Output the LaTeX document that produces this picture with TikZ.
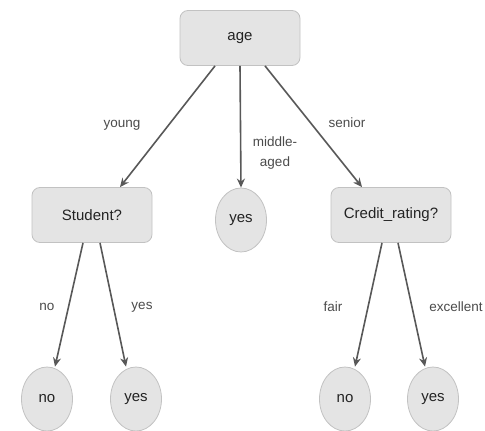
\documentclass[tikz,border=0pt]{standalone}
\usepackage{fontspec}
\setmainfont{Liberation Sans}
\usepackage{tikz}
\usepackage{xcolor}
\usetikzlibrary{shapes.geometric, arrows.meta, positioning, calc}
\definecolor{cFill}{RGB}{228,228,228}
\definecolor{cBorder}{RGB}{194,194,194}
\definecolor{cArrow}{RGB}{88,88,88}
\definecolor{cLabel}{RGB}{75,75,75}
\definecolor{cText}{RGB}{35,35,35}
\tikzset{
	test/.style  ={rectangle, rounded corners=8pt, minimum width=120pt, minimum height=55pt, align=center, draw=cBorder, thick, fill=cFill, text=cText, font=\fontsize{15}{17}\selectfont},
	leaf/.style  ={ellipse, minimum width=51pt, minimum height=64pt, inner sep=0pt, draw=cBorder, thick, fill=cFill, text=cText, font=\fontsize{15}{17}\selectfont},
	branch/.style={-{Stealth[length=9pt, width=8pt]}, line width=1.6pt, cArrow},
	blabel/.style={text=cLabel, align=center, font=\fontsize{13.5}{20}\selectfont},
}
\begin{document}
\begin{tikzpicture}[x=1pt, y=-1pt]
	\useasboundingbox (0,0) rectangle (485,431);
	% tests
	\node[test] (age) at (240,38) {age};
	\node[test] (student) at (92,215) {Student?};
	\node[test] (credit) at (391,215) {Credit\_rating?};
	% leaves
	\node[leaf] (mid) at (241,220) {yes};
	\node[leaf] (sno) at (47,399) {no};
	\node[leaf] (syes) at (136,399) {yes};
	\node[leaf] (cno) at (345,399) {no};
	\node[leaf] (cyes) at (433,399) {yes};
	% branches
	\draw[branch] ([xshift=-25pt]age.south) -- ([xshift=28pt]student.north);
	\draw[branch] (age.south) -- (mid.north);
	\draw[branch] ([xshift=25pt]age.south) -- ([xshift=-29pt]credit.north);
	\draw[branch] ([xshift=-9pt]student.south) -- ([xshift=8pt]sno.north);
	\draw[branch] ([xshift=8pt]student.south) -- ([xshift=-10pt]syes.north);
	\draw[branch] ([xshift=-9pt]credit.south) -- ([xshift=10pt]cno.north);
	\draw[branch] ([xshift=7pt]credit.south) -- ([xshift=-8pt]cyes.north);
	% branch labels
	\node[blabel] (lyoung) at (122,125) {young};
	\node[blabel] (lmiddle) at (275,153) {middle-\\aged};
	\node[blabel] (lsenior) at (347,123) {senior};
	\node[blabel] (lno) at (47,307) {no};
	\node[blabel] (lyes) at (142,307) {yes};
	\node[blabel] (lfair) at (333,307) {fair};
	\node[blabel] (lexc) at (456,307) {excellent};
\end{tikzpicture}
\end{document}
